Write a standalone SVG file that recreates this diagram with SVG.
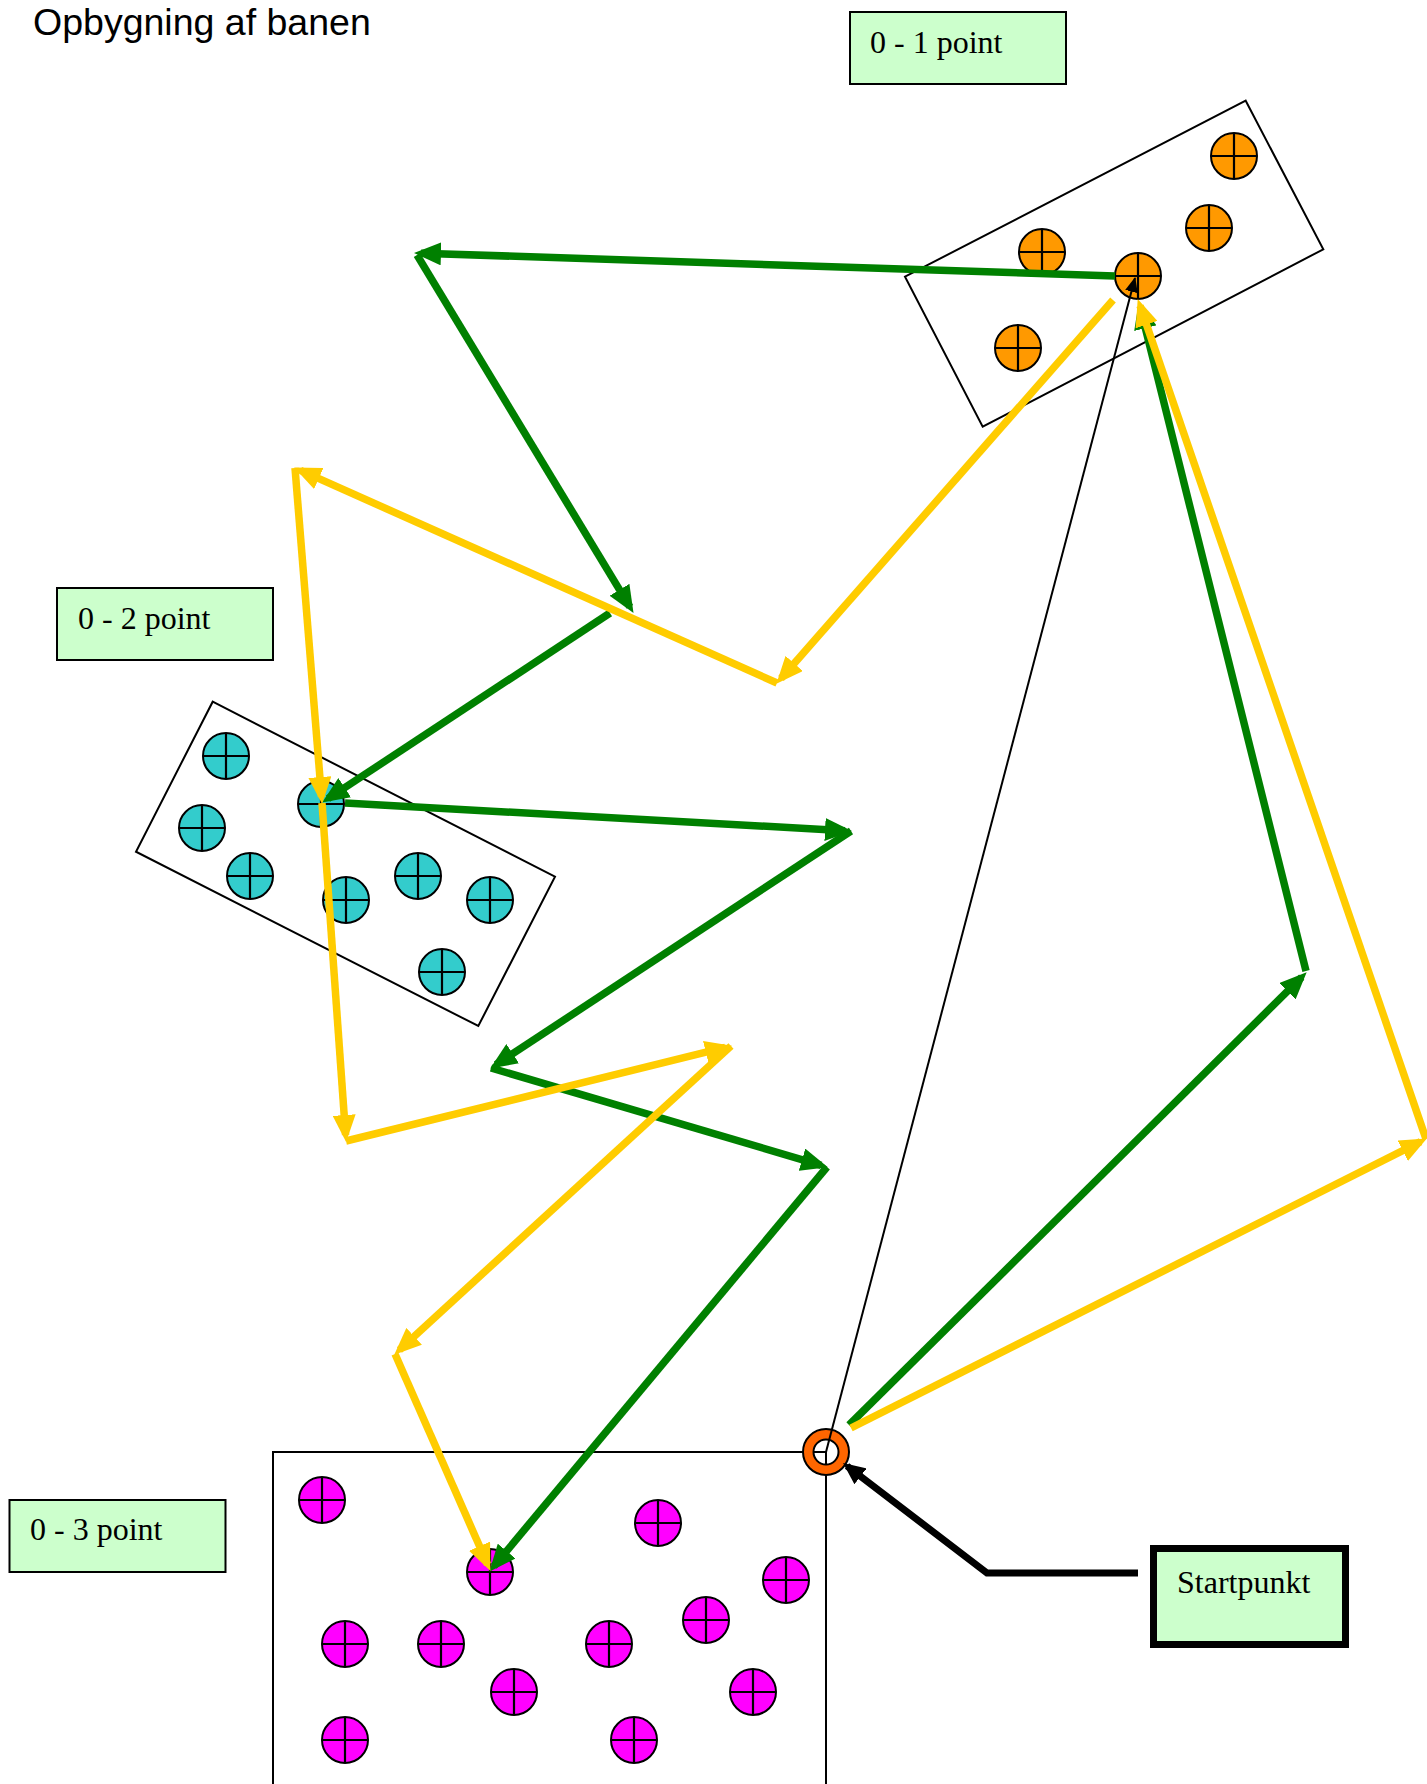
<svg xmlns="http://www.w3.org/2000/svg" xmlns:xlink="http://www.w3.org/1999/xlink" width="1427" height="1784" viewBox="0 0 1427 1784">
<style>
.zone{fill:none;stroke:#000;stroke-width:2}
.lbl{fill:#CCFFCC;stroke:#000;stroke-width:2}
.lt{font-family:"Liberation Serif","Times New Roman",serif;font-size:32px;fill:#000}
.g{fill:none;stroke:#008000;stroke-width:7.5;marker-end:url(#aG)}
.y{fill:none;stroke:#FFCC00;stroke-width:7.5;marker-end:url(#aY)}
.cx{stroke:#000;stroke-width:2.2;fill:none}
</style>
<defs>
<marker id="aG" markerUnits="userSpaceOnUse" markerWidth="27" markerHeight="23" viewBox="0 0 27 23" refX="20" refY="11.5" orient="auto"><path d="M0,0L27,11.5L0,23z" fill="#008000"/></marker>
<marker id="aY" markerUnits="userSpaceOnUse" markerWidth="27" markerHeight="23" viewBox="0 0 27 23" refX="20" refY="11.5" orient="auto"><path d="M0,0L27,11.5L0,23z" fill="#FFCC00"/></marker>
<marker id="aK" markerUnits="userSpaceOnUse" markerWidth="15" markerHeight="13" viewBox="0 0 15 13" refX="14" refY="6.5" orient="auto"><path d="M0,0L15,6.5L0,13z" fill="#000"/></marker>
<marker id="aKB" markerUnits="userSpaceOnUse" markerWidth="22" markerHeight="20" viewBox="0 0 22 20" refX="17" refY="10" orient="auto"><path d="M0,0L22,10L0,20z" fill="#000"/></marker>
<g id="dO"><circle r="23" fill="#FF9900" stroke="#000" stroke-width="2"/><path class="cx" d="M-23,0H23M0,-23V23"/></g>
<g id="dT"><circle r="23" fill="#33CCCC" stroke="#000" stroke-width="2"/><path class="cx" d="M-23,0H23M0,-23V23"/></g>
<g id="dP"><circle r="23" fill="#FF00FF" stroke="#000" stroke-width="2"/><path class="cx" d="M-23,0H23M0,-23V23"/></g>
</defs>
<rect width="1427" height="1784" fill="#fff"/>
<text x="33" y="35" font-family="'Liberation Sans',Arial,sans-serif" font-size="37.5" fill="#000">Opbygning af banen</text>

<g id="zone1">
<polygon class="zone" points="1245.7,100.7 1323.3,249.3 982.7,426.7 905,276.7"/>
<use xlink:href="#dO" x="1234" y="156"/>
<use xlink:href="#dO" x="1209" y="228"/>
<use xlink:href="#dO" x="1042" y="252"/>
<use xlink:href="#dO" x="1138" y="276"/>
<use xlink:href="#dO" x="1018" y="348"/>
</g>
<g id="zone2">
<polygon class="zone" points="212.7,701.7 555,876.7 478.3,1026 136,851.7"/>
<use xlink:href="#dT" x="226" y="756"/>
<use xlink:href="#dT" x="202" y="828"/>
<use xlink:href="#dT" x="250" y="876"/>
<use xlink:href="#dT" x="321" y="804"/>
<use xlink:href="#dT" x="346" y="900"/>
<use xlink:href="#dT" x="418" y="876"/>
<use xlink:href="#dT" x="490" y="900"/>
<use xlink:href="#dT" x="442" y="972"/>
</g>
<g id="zone3">
<rect class="zone" x="273" y="1452" width="553" height="400"/>
<use xlink:href="#dP" x="322" y="1500"/>
<use xlink:href="#dP" x="658" y="1523"/>
<use xlink:href="#dP" x="490" y="1572"/>
<use xlink:href="#dP" x="786" y="1580"/>
<use xlink:href="#dP" x="706" y="1620"/>
<use xlink:href="#dP" x="345" y="1644"/>
<use xlink:href="#dP" x="441" y="1644"/>
<use xlink:href="#dP" x="609" y="1644"/>
<use xlink:href="#dP" x="514" y="1692"/>
<use xlink:href="#dP" x="753" y="1692"/>
<use xlink:href="#dP" x="345" y="1740"/>
<use xlink:href="#dP" x="634" y="1740"/>
</g>
<g id="start">
<path d="M803,1452a23,23 0 1,0 46,0a23,23 0 1,0 -46,0ZM813.5,1452a12.5,12.5 0 1,0 25,0a12.5,12.5 0 1,0 -25,0Z" fill="#FF6600" fill-rule="evenodd" stroke="#000" stroke-width="2"/>
</g>

<g id="label1"><rect class="lbl" x="850" y="12" width="216" height="72"/><text class="lt" x="870" y="53">0 - 1 point</text></g>
<g id="label2"><rect class="lbl" x="57" y="588" width="216" height="72"/><text class="lt" x="78" y="629">0 - 2 point</text></g>
<g id="label3"><rect class="lbl" x="9.5" y="1500" width="216" height="72"/><text class="lt" x="30" y="1540">0 - 3 point</text></g>
<g id="labelStart"><rect x="1153.5" y="1548.5" width="192" height="96" fill="#CCFFCC" stroke="#000" stroke-width="7"/><text class="lt" x="1177" y="1593">Startpunkt</text></g>

<g id="connectors">
<line x1="826" y1="1452" x2="1135" y2="278" stroke="#000" stroke-width="2" marker-end="url(#aK)"/>
<path class="g" d="M1115,276L421,253.2"/>
<path class="g" d="M417,255L629.9,606.9"/>
<path class="g" d="M610,613L328,798.7"/>
<path class="g" d="M345,803L845,830.7"/>
<path class="g" d="M851,831L496,1064.7"/>
<path class="g" d="M491,1068L821.2,1165.3"/>
<path class="g" d="M827,1167L493.8,1566.4"/>
<path class="g" d="M849,1425L1301.7,977.2"/>
<path class="g" d="M1306,971L1140.5,308.8"/>
<path class="y" d="M1113,300L781,678.5"/>
<path class="y" d="M777,683L300.5,470.4"/>
<path class="y" d="M295,468L321.5,797"/>
<path class="y" d="M322,803L345.6,1135"/>
<path class="y" d="M346,1141L725.2,1047.4"/>
<path class="y" d="M731,1046L399.4,1349.9"/>
<path class="y" d="M395,1354L487.6,1564.5"/>
<path class="y" d="M851,1428L1420.6,1141.7"/>
<path class="y" d="M1426,1139L1140,305.7"/>
<path d="M1138,1573L987,1573L847,1466" fill="none" stroke="#000" stroke-width="7" marker-end="url(#aKB)"/>
</g>
</svg>
